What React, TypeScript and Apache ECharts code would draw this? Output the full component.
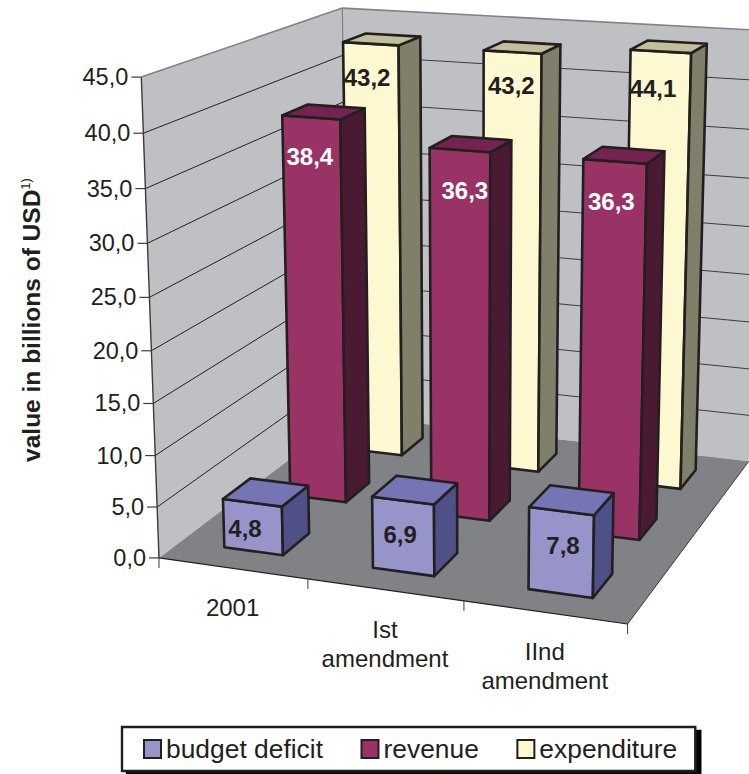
import React, { useEffect, useRef } from "react";
import * as echarts from "echarts";

// Budget figures, in billions of USD
const categories = ["2001", "Ist\namendment", "IInd\namendment"];
const budgetDeficit = [4.8, 6.9, 7.8];
const revenue = [38.4, 36.3, 36.3];
const expenditure = [43.2, 43.2, 44.1];
const yTicks = [0, 5, 10, 15, 20, 25, 30, 35, 40, 45];

const FONT = '"Liberation Sans", Arial, sans-serif';
const INK = "#231f20";
const WALL = "#bfc0c4";
const FLOOR = "#808285";

const BAR_WIDTH = 0.4; // share of a category band
const BAR_DEPTH = 0.4; // share of a depth row
const ROWS = 3;

// Fine placement of the value labels, [dx, dy] per depth row and category
const LABEL_NUDGE = [
  [[-8, -2], [-3, -1], [2, -2]],
  [[-2, 4], [5, 5], [-3, 4]],
  [[-4, 0], [-1, -1], [-7, 2]],
];

// Reference points of the plot box on the page, as [u, v, w] -> [x, y]
const CORNERS: [number[], number[]][] = [
  [[0, 0, 0], [159, 558]],
  [[1, 0, 0], [627, 625]],
  [[0, 1, 0], [348, 416]],
  [[1, 1, 0], [749, 460]],
  [[0, 0, 1], [141, 77]],
  [[0, 1, 1], [342, 8]],
  [[1, 1, 1], [763, 31]],
  [[0, 0, 5 / 9], [150, 297]],
  [[0, 0, 2 / 9], [155.5, 455]],
];

// Least-squares fit of a projective camera through those points
function fitCamera(): number[] {
  const rows: number[][] = [];
  const rhs: number[] = [];
  for (const [[u, v, w], [x, y]] of CORNERS) {
    rows.push([u, v, w, 1, 0, 0, 0, 0, -x * u, -x * v, -x * w]);
    rhs.push(x);
    rows.push([0, 0, 0, 0, u, v, w, 1, -y * u, -y * v, -y * w]);
    rhs.push(y);
  }
  const n = 11;
  const m = Array.from({ length: n }, (_, i) => {
    const line = new Array(n + 1).fill(0);
    rows.forEach((r, k) => {
      for (let j = 0; j < n; j++) line[j] += r[i] * r[j];
      line[n] += r[i] * rhs[k];
    });
    return line;
  });
  for (let c = 0; c < n; c++) {
    let best = c;
    for (let r = c + 1; r < n; r++) if (Math.abs(m[r][c]) > Math.abs(m[best][c])) best = r;
    [m[c], m[best]] = [m[best], m[c]];
    for (let r = 0; r < n; r++) {
      if (r === c) continue;
      const f = m[r][c] / m[c][c];
      for (let j = c; j <= n; j++) m[r][j] -= f * m[c][j];
    }
  }
  return m.map((line, i) => line[n] / line[i]);
}

const CAM = fitCamera();
function project(u: number, v: number, w: number): number[] {
  const d = CAM[8] * u + CAM[9] * v + CAM[10] * w + 1;
  return [
    (CAM[0] * u + CAM[1] * v + CAM[2] * w + CAM[3]) / d,
    (CAM[4] * u + CAM[5] * v + CAM[6] * w + CAM[7]) / d,
  ];
}

function polygon(points: number[][], fill: string, stroke = INK, lineWidth = 2.6) {
  return { type: "polygon", shape: { points }, style: { fill, stroke, lineWidth, lineJoin: "round" } };
}
function line(a: number[], b: number[], stroke: string, lineWidth = 1) {
  return { type: "line", shape: { x1: a[0], y1: a[1], x2: b[0], y2: b[1] }, style: { stroke, lineWidth } };
}
function label(text: string, x: number, y: number, size: number, extra: object = {}) {
  return {
    type: "text",
    style: { text, x, y, fontSize: size, fontFamily: FONT, fill: INK, align: "center", verticalAlign: "middle", ...extra },
  };
}

// Walls, floor, gridlines, ticks and tick labels of the box
function renderFrame(params: any, api: any) {
  const cs = params.coordSys;
  const toW = (t: number) => (cs.y + cs.height - api.coord([0, t])[1]) / cs.height;
  const kids: any[] = [
    polygon([project(0, 0, 0), project(0, 1, 0), project(0, 1, 1), project(0, 0, 1)], WALL, "none", 0),
    polygon([project(0, 1, 0), project(1, 1, 0), project(1, 1, 1), project(0, 1, 1)], WALL, "none", 0),
    polygon([project(0, 0, 0), project(1, 0, 0), project(1, 1, 0), project(0, 1, 0)], FLOOR, "none", 0),
  ];
  yTicks.forEach((t) => {
    const w = toW(t);
    const p = project(0, 0, w);
    if (t > 0 && t < 45) {
      kids.push(line(p, project(0, 1, w), INK, 1));
      kids.push(line(project(0, 1, w), project(1, 1, w), "#3b3b3d", 1));
    }
    kids.push(line([p[0] - 10, p[1]], p, "#3b3b3d", 1.2));
    kids.push(label(t.toFixed(1).replace(".", ","), p[0] - 13, p[1], 23.5, { align: "right" }));
  });
  kids.push(line(project(0, 0, 1), project(0, 1, 1), "#808285", 1.6));
  kids.push(line(project(0, 1, 1), project(1, 1, 1), "#808285", 1.6));
  kids.push(line(project(0, 1, 0), project(0, 1, 1), "#808285", 1.2));
  kids.push(line(project(0, 0, 0), project(0, 0, 1), "#3b3b3d", 1.4));
  kids.push(line(project(0, 0, 0), project(1, 0, 0), INK, 1.2));
  kids.push(line(project(1, 0, 0), project(1, 1, 0), "#3b3b3d", 1));
  categories.forEach((c, i) => {
    const u0 = i / categories.length;
    const a = project(u0, 0, 0);
    kids.push(line(a, [a[0], a[1] + 10], "#3b3b3d", 1));
    const m = project((api.coord([i, 0])[0] - cs.x) / cs.width, 0, 0);
    kids.push(label(c, m[0], m[1] + 25, 24, { verticalAlign: "top", lineHeight: 29 }));
  });
  const end = project(1, 0, 0);
  kids.push(line(end, [end[0], end[1] + 10], "#3b3b3d", 1));
  return { type: "group", children: kids };
}

// One cuboid: its band comes from the category axis, its height from the value axis
function barRenderer(row: number, front: string, top: string, side: string, labelFill: string) {
  return (params: any, api: any) => {
    const cs = params.coordSys;
    const i = api.value(0);
    const val = api.value(1);
    const [cx, cy] = api.coord([i, val]);
    const uc = (cx - cs.x) / cs.width;
    const w = (cs.y + cs.height - cy) / cs.height;
    const du = (BAR_WIDTH / categories.length) / 2;
    const vc = (row + 0.5) / ROWS;
    const dv = (BAR_DEPTH / ROWS) / 2;
    const u0 = uc - du, u1 = uc + du, v0 = vc - dv, v1 = vc + dv;
    const frontFace = [project(u0, v0, 0), project(u1, v0, 0), project(u1, v0, w), project(u0, v0, w)];
    const sideFace = [project(u1, v0, 0), project(u1, v1, 0), project(u1, v1, w), project(u1, v0, w)];
    const topFace = [project(u0, v0, w), project(u1, v0, w), project(u1, v1, w), project(u0, v1, w)];
    const anchorW = (Math.max(val - 3.4, val * 0.42) / val) * w;
    const tag = project((u0 + u1) / 2, v0, anchorW);
    const [dx, dy] = LABEL_NUDGE[row][i];
    return {
      type: "group",
      children: [
        polygon(frontFace, front),
        polygon(sideFace, side),
        polygon(topFace, top),
        label(val.toFixed(1).replace(".", ","), tag[0] + dx, tag[1] + dy, 24, { fontWeight: "bold", fill: labelFill }),
      ],
    };
  };
}

function barSeries(name: string, values: number[], renderItem: any) {
  return {
    type: "custom",
    name,
    renderItem,
    data: values.map((v, i) => [i, v]),
    encode: { x: 0, y: 1 },
    clip: false,
    silent: true,
  };
}

export default function App() {
  const ref = useRef<HTMLDivElement>(null);
  useEffect(() => {
    const chart = echarts.init(ref.current!, undefined, { renderer: "svg" });
    chart.setOption({
      animation: false,
      grid: { left: 159, top: 77, width: 468, height: 481 },
      xAxis: { type: "category", data: categories, show: false },
      yAxis: {
        type: "value",
        min: 0,
        max: 45,
        interval: 5,
        axisLine: { show: false },
        axisTick: { show: false },
        axisLabel: { show: false },
        splitLine: { show: false },
        name: "{t|value in billions of USD}{s|1)}",
        nameLocation: "middle",
        nameRotate: 90,
        nameGap: 115,
        nameTextStyle: {
          rich: {
            t: { fontFamily: FONT, fontSize: 24.5, fontWeight: "bold", color: INK },
            s: { fontFamily: FONT, fontSize: 13, color: INK, verticalAlign: "top", padding: [0, 5, 0, 0] },
          },
        },
      },
      legend: {
        left: 122,
        top: 727,
        padding: [9, 18, 9, 21],
        itemGap: 37.5,
        itemWidth: 17,
        itemHeight: 18,
        backgroundColor: "#fff",
        borderColor: INK,
        borderWidth: 2.4,
        shadowColor: "#000",
        shadowOffsetX: 5,
        shadowOffsetY: 4,
        shadowBlur: 0,
        borderRadius: 0,
        textStyle: { fontFamily: FONT, fontSize: 26.4, color: INK },
        data: [
          { name: "budget deficit", icon: "rect", itemStyle: { color: "#9794c9", borderColor: INK, borderWidth: 2 } },
          { name: "revenue", icon: "rect", itemStyle: { color: "#993366", borderColor: INK, borderWidth: 2 } },
          { name: "expenditure", icon: "rect", itemStyle: { color: "#fdf8cf", borderColor: INK, borderWidth: 2 } },
        ],
      },
      series: [
        { type: "custom", renderItem: renderFrame, data: [[0, 0]], encode: { x: 0, y: 1 }, clip: false, silent: true },
        barSeries("expenditure", expenditure, barRenderer(2, "#fdf8cf", "#bfbf99", "#80806a", INK)),
        barSeries("revenue", revenue, barRenderer(1, "#993366", "#742350", "#4a1a33", "#fff")),
        barSeries("budget deficit", budgetDeficit, barRenderer(0, "#9794c9", "#7575b5", "#4f5085", INK)),
      ],
    });
    return () => chart.dispose();
  }, []);
  return <div ref={ref} style={{ position: "absolute", left: 0, top: 0, width: 749, height: 774 }} />;
}
